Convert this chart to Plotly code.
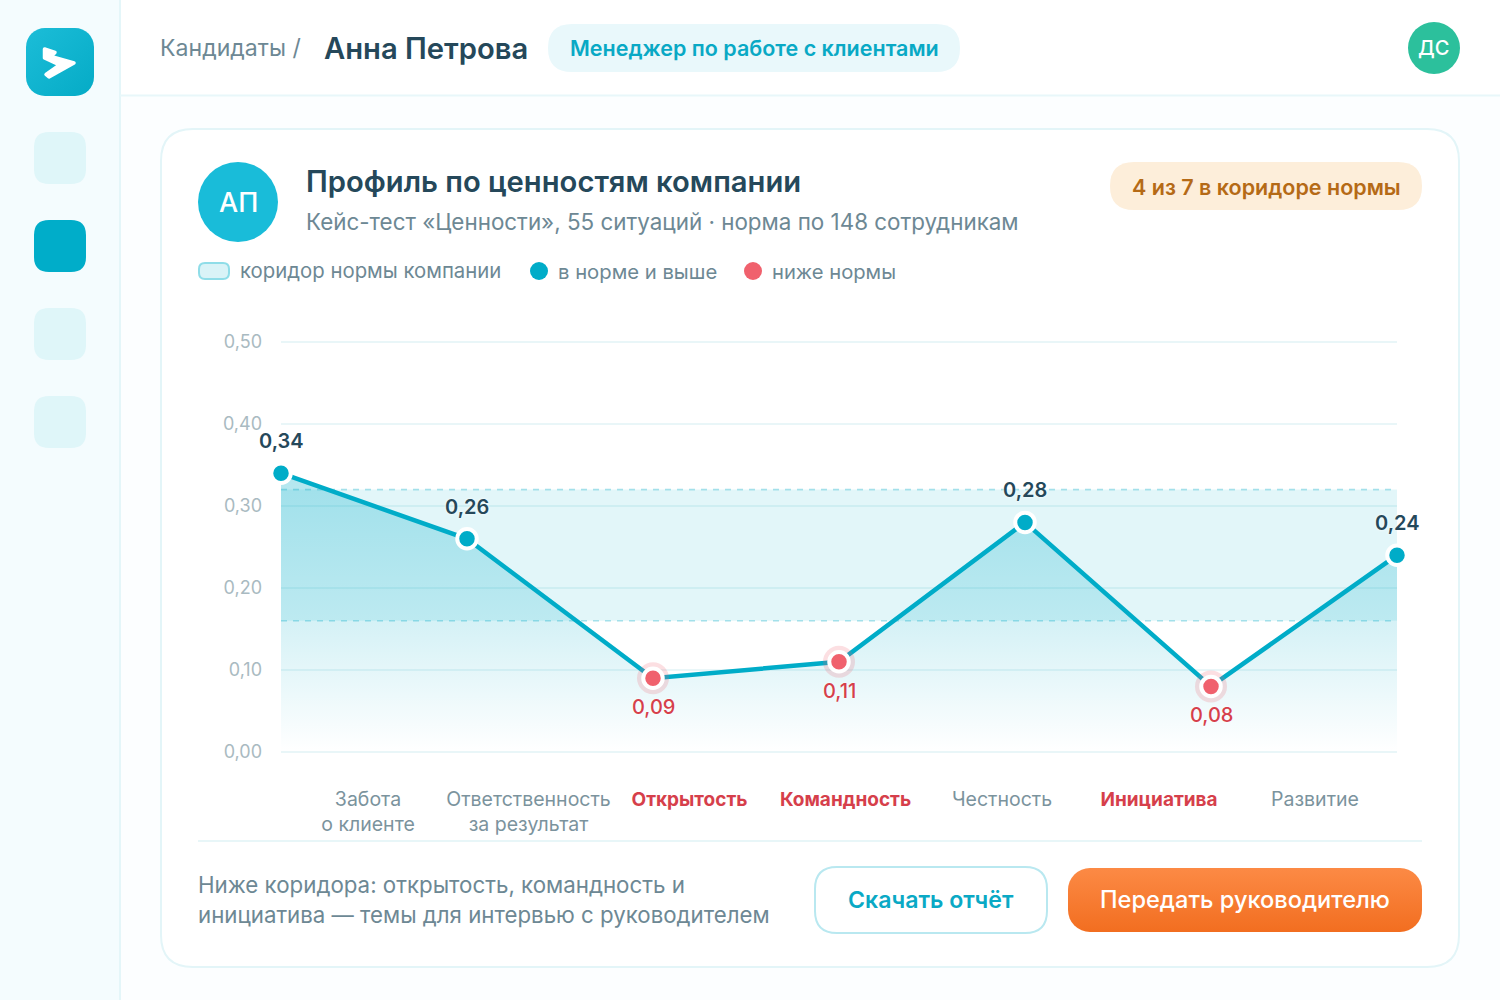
import base64
import plotly.graph_objects as go

# ---- data ----
categories = ["Забота о клиенте", "Ответственность за результат", "Открытость", "Командность",
              "Честность", "Инициатива", "Развитие"]
tick_labels = ["Забота<br>о клиенте", "Ответственность<br>за результат", "Открытость", "Командность",
               "Честность", "Инициатива", "Развитие"]
values = [0.34, 0.26, 0.09, 0.11, 0.28, 0.08, 0.24]
band_low = [0.16] * 7
band_high = [0.32] * 7
y_ticks = [0, 0.1, 0.2, 0.3, 0.4, 0.5]

W, H = 1500, 1000
FONT = "Inter"
TEAL = "#00acc8"
RED = "#f0616d"
RED_TXT = "#d63f4b"
DARK = "#25485a"
GREY = "#6d8894"
LABEL_CENTERS = [368, 528.5, 689.5, 845.5, 1002, 1159, 1315]

def px(x): return x / W
def py(y): return 1 - y / H

def rr(x0, y0, x1, y1, r):
    pts = [("M", x0 + r, y0), ("L", x1 - r, y0), ("Q", x1, y0, x1, y0 + r), ("L", x1, y1 - r),
           ("Q", x1, y1, x1 - r, y1), ("L", x0 + r, y1), ("Q", x0, y1, x0, y1 - r), ("L", x0, y0 + r),
           ("Q", x0, y0, x0 + r, y0)]
    out = []
    for p in pts:
        c = p[0]
        nums = p[1:]
        s = " ".join(f"{px(nums[i]):.5f},{py(nums[i+1]):.5f}" for i in range(0, len(nums), 2))
        out.append(f"{c} {s}")
    return " ".join(out) + " Z"

shapes = []
def round_rect(x0, y0, x1, y1, r, fill, line=None, lw=0):
    shapes.append(dict(type="path", xref="paper", yref="paper", path=rr(x0, y0, x1, y1, r), fillcolor=fill,
                       line=dict(color=line or fill, width=lw), layer="below"))
def rect(x0, y0, x1, y1, fill):
    shapes.append(dict(type="rect", xref="paper", yref="paper", x0=px(x0), x1=px(x1), y0=py(y0), y1=py(y1),
                       fillcolor=fill, line=dict(width=0), layer="below"))
def circle(cx, cy, r, fill):
    shapes.append(dict(type="circle", xref="paper", yref="paper", x0=px(cx - r), x1=px(cx + r), y0=py(cy - r), y1=py(cy + r),
                       fillcolor=fill, line=dict(width=0), layer="below"))

annos = []
def text(x, y, s, size, color, anchor="left", weight=400):
    annos.append(dict(xref="paper", yref="paper", x=px(x), y=py(y), text=s, showarrow=False, xanchor=anchor, yanchor="middle",
                      borderpad=0, borderwidth=0,
                      font=dict(family=FONT, size=size, color=color, weight=weight), align=anchor))

# page chrome
rect(0, 0, 1500, 1000, "#ffffff")
rect(120, 96, 1500, 1000, "#fcfeff")
rect(0, 0, 119, 1000, "#f4fcfe")
rect(119, 0, 121, 1000, "#e4f6f9")
rect(120, 94.5, 1500, 96.5, "#e8f7fa")
for y0, c in [(132, "#dff6f9"), (220, "#00adc9"), (308, "#dff6f9"), (396, "#dff6f9")]:
    round_rect(34, y0, 86, y0 + 52, 15, c)

# header
round_rect(548, 24, 960, 72, 24, "#e9f8fb")
circle(1434, 48, 26, "#2cc09c")
text(160, 48, "Кандидаты /", 23.1, GREY)
text(323.5, 48, "Анна Петрова", 29.2, DARK, weight=600)
text(754.5, 48, "Менеджер по работе с клиентами", 21.5, "#09a9c5", "center", 600)
text(1433.5, 48, "ДС", 20, "#ffffff", "center", 500)

# card
round_rect(161, 129, 1459, 967, 32, "#ffffff", "#e3f5f8", 2)
circle(238, 202, 40, "#19bcd9")
text(238, 202.5, "АП", 27, "#ffffff", "center", 500)
text(306, 182, "Профиль по ценностям компании", 29.2, DARK, weight=600)
text(306, 222, "Кейс-тест «Ценности», 55 ситуаций · норма по 148 сотрудникам", 22.4, GREY)
round_rect(1110, 162, 1422, 210, 24, "#fdeeda")
text(1266, 186.5, "4 из 7 в коридоре нормы", 21.5, "#b56a16", "center", 600)

# legend
round_rect(199, 263, 229, 279, 6, "#d9f3f7", "#8fdde8", 2)
text(240, 270.5, "коридор нормы компании", 20.35, GREY)
circle(539, 271, 9, TEAL)
text(558, 271, "в норме и выше", 20.25, GREY)
circle(753, 271, 9, RED)
text(772, 271, "ниже нормы", 20.2, GREY)

# footer
rect(198, 840, 1422, 842, "#e8f6f8")
text(198, 884.5, "Ниже коридора: открытость, командность и", 22.3, GREY)
text(198, 914.5, "инициатива — темы для интервью с руководителем", 22.25, GREY)
round_rect(815, 867, 1047, 933, 22, "#ffffff", "#b9e8f0", 2)
text(931, 900, "Скачать отчёт", 23.1, "#0aa9c5", "center", 600)
text(1245, 899.5, "Передать руководителю", 23.6, "#ffffff", "center", 500)

def svg_uri(svg):
    return "data:image/svg+xml;base64," + base64.b64encode(svg.encode()).decode()

logo_svg = ('<svg xmlns="http://www.w3.org/2000/svg" width="272" height="272" viewBox="26 28 68 68">'
            '<defs><linearGradient id="g" x1="0" y1="0" x2="1" y2="1"><stop offset="0" stop-color="#1cbdd8"/>'
            '<stop offset="1" stop-color="#05abc6"/></linearGradient></defs>'
            '<rect x="26" y="28" width="68" height="68" rx="19" fill="url(#g)"/>'
            '<path d="M44.5 49 L55 52.5 L51 56.5 L74 63 L49 77 L46 74.5 L59.5 65 L44.5 58 Z" fill="#fff" stroke="#fff" '
            'stroke-width="3.5" stroke-linejoin="round"/></svg>')
btn_svg = ('<svg xmlns="http://www.w3.org/2000/svg" width="708" height="128" viewBox="0 0 354 64">'
           '<defs><linearGradient id="b" x1="0" y1="0" x2="0" y2="1"><stop offset="0" stop-color="#fc8a45"/>'
           '<stop offset="1" stop-color="#f26e20"/></linearGradient></defs>'
           '<rect width="354" height="64" rx="22" fill="url(#b)"/></svg>')
images = [
    dict(source=svg_uri(logo_svg), xref="paper", yref="paper", x=px(26), y=py(28), sizex=68 / W, sizey=68 / H,
         xanchor="left", yanchor="top", sizing="stretch", layer="above"),
    dict(source=svg_uri(btn_svg), xref="paper", yref="paper", x=px(1068), y=py(868), sizex=354 / W, sizey=64 / H,
         xanchor="left", yanchor="top", sizing="stretch", layer="above"),
]

# ---- chart ----
fig = go.Figure()
dash = dict(color="#a3e0ea", width=1.6, dash="6px,6px")
fig.add_trace(go.Scatter(x=categories, y=band_low, mode="lines", line=dash, hoverinfo="skip", showlegend=False))
fig.add_trace(go.Scatter(x=categories, y=band_high, mode="lines", line=dash, fill="tonexty",
                         fillcolor="rgba(0,172,200,0.115)", hoverinfo="skip", showlegend=False))
fig.add_trace(go.Scatter(
    x=categories, y=values, mode="none", fill="tozeroy", hoverinfo="skip", showlegend=False,
    fillgradient=dict(type="vertical", start=0.34, stop=0.0,
                      colorscale=[[0, "rgba(0,172,200,0.30)"], [0.55, "rgba(0,172,200,0.16)"], [1, "rgba(0,172,200,0)"]])))
fig.add_trace(go.Scatter(x=categories, y=values, mode="lines", line=dict(color=TEAL, width=4.5), showlegend=False,
                         cliponaxis=False))

low = [i for i, v in enumerate(values) if v < band_low[i]]
fig.add_trace(go.Scatter(x=[categories[i] for i in low], y=[values[i] for i in low], mode="markers", cliponaxis=False,
                         marker=dict(size=32, color="rgba(240,97,109,0.2)"), hoverinfo="skip", showlegend=False))
fig.add_trace(go.Scatter(x=categories, y=values, mode="markers", showlegend=False, cliponaxis=False,
                         marker=dict(size=19.5, color=[RED if i in low else TEAL for i in range(7)],
                                     line=dict(color="#ffffff", width=4))))
# carrier trace for the label axis
fig.add_trace(go.Scatter(x=LABEL_CENTERS, y=[None] * 7, xaxis="x2", yaxis="y2", mode="none", hoverinfo="skip", showlegend=False))

for i, v in enumerate(values):
    is_low = i in low
    annos.append(dict(xref="x", yref="y", x=categories[i], y=v, yshift=-29 if is_low else 32, showarrow=False,
                      text=f"{v:.2f}".replace(".", ","),
                      font=dict(family=FONT, size=20, weight=500 if is_low else 600, color=RED_TXT if is_low else DARK,
                                shadow="0 0 3px #ffffff")))

tick_text = [f'<span style="color:{RED_TXT};font-size:19px"><b>{t}</b></span>' if i in low else t
             for i, t in enumerate(tick_labels)]

# a small margin on the value range keeps the 0,00 and 0,50 grid lines drawn
Y_PAD = 0.005
Y_PX = 820 * Y_PAD
y_domain = [py(752 + Y_PX), py(342 - Y_PX)]

fig.update_layout(
    width=W, height=H, margin=dict(l=0, r=0, t=0, b=0, autoexpand=False), autosize=False,
    paper_bgcolor="#ffffff", plot_bgcolor="rgba(0,0,0,0)", showlegend=False, separators=", ",
    font=dict(family=FONT),
    xaxis=dict(domain=[px(281), px(1397)], type="category", categoryorder="array", categoryarray=categories,
               range=[0, 6], showgrid=False, showticklabels=False, zeroline=False, showline=False, ticks=""),
    xaxis2=dict(domain=[0, 1], range=[0, W], anchor="y2", tickmode="array", tickvals=LABEL_CENTERS, ticktext=tick_text,
                showgrid=False, zeroline=False, showline=False, ticks="", tickangle=0, ticklabelstandoff=29,
                tickfont=dict(family=FONT, size=19.5, color="#7b939d")),
    yaxis=dict(domain=y_domain, range=[-Y_PAD, 0.5 + Y_PAD], tickvals=y_ticks, tickformat=".2f", gridcolor="#e9f6f8",
               gridwidth=1.5, zeroline=False, showline=False, ticks="", ticklabelstandoff=18,
               tickfont=dict(family=FONT, size=18, color="#a9bac1")),
    yaxis2=dict(domain=y_domain, range=[-Y_PAD, 0.5 + Y_PAD], visible=False, showgrid=False, zeroline=False),
    shapes=shapes, annotations=annos, images=images,
)
fig.write_html("out.html", post_script="document.body.style.margin='0';", config=dict(displayModeBar=False))
